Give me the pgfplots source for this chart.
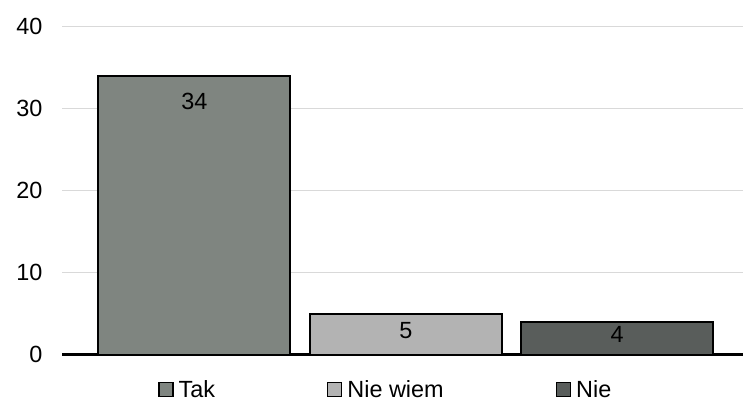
\documentclass[border=0pt]{standalone}
\usepackage{fontspec}
\setmainfont{Liberation Sans}
\usepackage{pgfplots}
\pgfplotsset{compat=1.18}
\definecolor{cTak}{RGB}{127,133,128}
\definecolor{cNW}{RGB}{179,179,179}
\definecolor{cNie}{RGB}{89,93,91}
\definecolor{cGrid}{RGB}{217,217,217}
\begin{document}
\begin{tikzpicture}
\begin{axis}[
  at={(0,0)}, anchor=south west,
  scale only axis,
  width=681bp, height=328bp,
  xmin=-0.627, xmax=2.596,
  ymin=0, ymax=40,
  ytick={0,10,20,30,40},
  xtick=\empty,
  ymajorgrids,
  grid style={cGrid, line width=1bp},
  axis x line*=bottom,
  axis y line*=left,
  y axis line style={draw=none},
  x axis line style={black, line width=2.5bp, -},
  major tick length=0pt,
  tick label style={font=\fontsize{23.5pt}{27pt}\selectfont},
  yticklabel style={xshift=-16bp},
  /pgf/number format/assume math mode=true,
  bar width=192bp,
  legend columns=3,
  legend style={
    at={(axis description cs:0.141,-0.106)}, anchor=west,
    draw=none, fill=none, inner sep=0pt, outer sep=0pt,
    font=\fontsize{23.5pt}{27pt}\selectfont,
    nodes={inner sep=0pt},
    /tikz/every odd column/.append style={column sep=5bp},
    /tikz/every even column/.append style={column sep=112bp},
  },
  legend image code/.code={\draw[#1, draw=black, line width=1.5bp] (0bp,-7bp) rectangle (14bp,7bp);},
  nodes near coords,
  every node near coord/.append style={font=\fontsize{23.5pt}{27pt}\selectfont, black, anchor=center, inner sep=0pt},
]
\addplot[ybar, bar shift=0pt, fill=cTak, draw=black, line width=2bp,
  every node near coord/.append style={yshift=-26bp}] coordinates {(0,34)};
\addlegendentry{Tak}
\addplot[ybar, bar shift=0pt, fill=cNW, draw=black, line width=2bp,
  every node near coord/.append style={yshift=-17bp}] coordinates {(1,5)};
\addlegendentry{Nie wiem}
\addplot[ybar, bar shift=0pt, fill=cNie, draw=black, line width=2bp,
  every node near coord/.append style={yshift=-13bp}] coordinates {(2,4)};
\addlegendentry{Nie}
\end{axis}
\pgfresetboundingbox
\path[use as bounding box] (-62bp,-46.3bp) rectangle (681bp,354.7bp);
\end{tikzpicture}
\end{document}
